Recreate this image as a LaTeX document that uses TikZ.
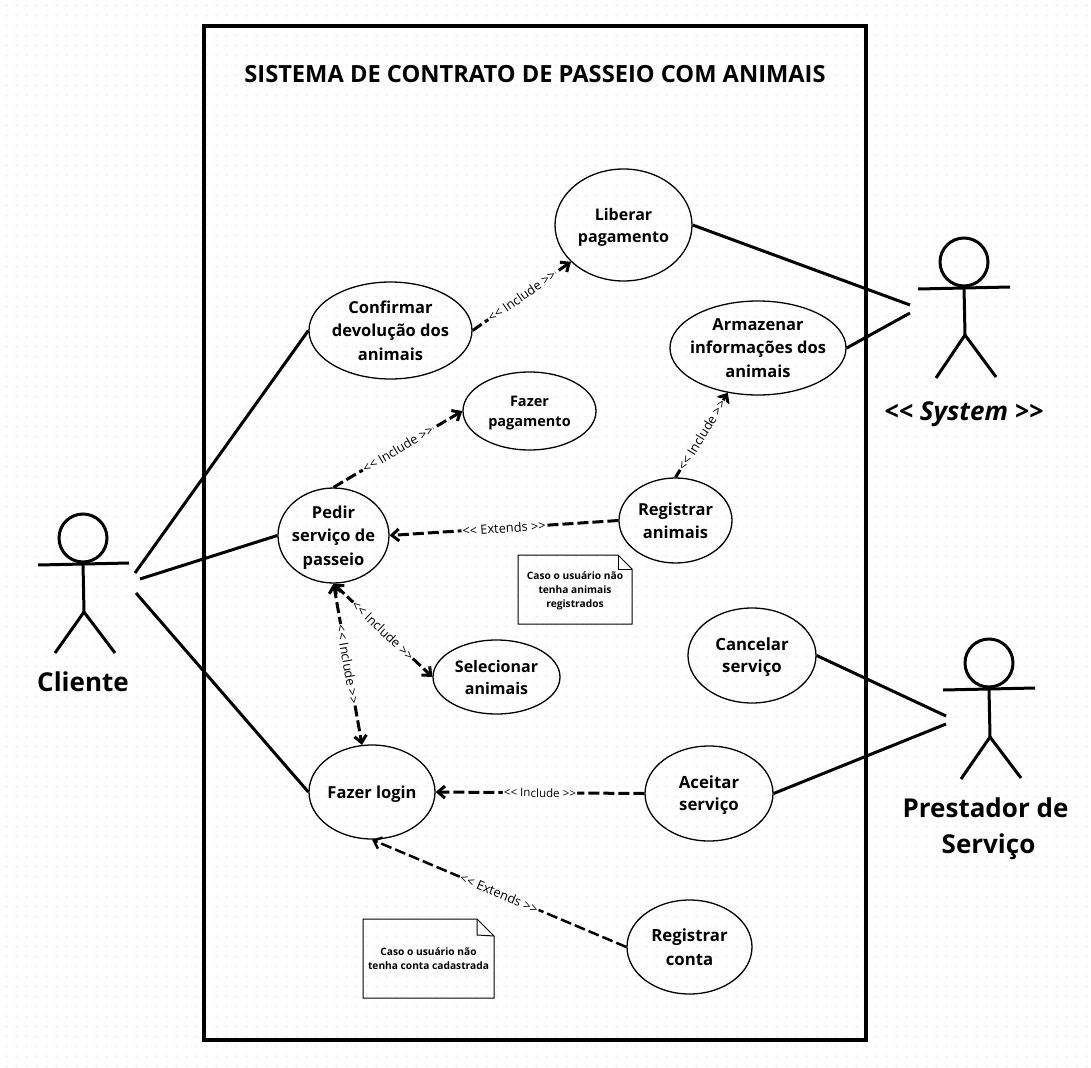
\documentclass[tikz,border=0pt]{standalone}
\usepackage{fontspec}
\setmainfont{Open Sans}
\usetikzlibrary{arrows.meta, shapes.geometric}

\begin{document}
\begin{tikzpicture}[
    x=1pt, y=-1pt,
    usecase/.style={draw, ellipse, inner sep=-15pt, text depth=-1.5pt, align=center, line width=1.3pt, font=\bfseries\fontsize{16.5}{23.5}\selectfont},
    usetight/.style={usecase, font=\bfseries\fontsize{16}{22}\selectfont},
    usewide/.style={usecase, font=\bfseries\fontsize{16.8}{22}\selectfont},
    usesmall/.style={usecase, font=\bfseries\fontsize{14.5}{20}\selectfont},
    actorhead/.style={draw, circle, minimum size=48pt, inner sep=0pt, line width=3pt},
    actorlabel/.style={align=center, font=\bfseries\fontsize{26}{36}\selectfont},
    limb/.style={line width=3pt},
    assoc/.style={line width=3pt},
    incLine/.style={draw, dashed, dash pattern=on 11pt off 4pt, -{Straight Barb[length=7pt,width=12pt]}, line width=3pt},
    biLine/.style={incLine, {Straight Barb[length=7pt,width=12pt]}-{Straight Barb[length=7pt,width=12pt]}},
    tag/.style={fill=white, inner sep=1pt, sloped, font=\fontsize{12.8}{15}\selectfont},
    notetext/.style={align=center, font=\bfseries\fontsize{10.2}{14}\selectfont}
]

    % Page and dots
    \useasboundingbox (0,0) rectangle (1091,1067);
    \fill[white] (0,0) rectangle (1091,1067);
    \foreach \row in {6,16,...,1066} {
        \draw[black!6, line width=1pt, dash pattern=on 3pt off 7pt] (4.5,\row) -- (1091,\row);
    }
    \foreach \col in {6,16,...,1086} {
        \draw[black!6, line width=1pt, dash pattern=on 3pt off 7pt] (\col,4.5) -- (\col,1067);
    }

    % System frame
    \node[draw, line width=4pt, minimum width=662pt, minimum height=1014pt, inner sep=0pt] (frame) at (535,533) {};
    \node[font=\bfseries\fontsize{23.66}{28}\selectfont] (title) at (535,74) {SISTEMA DE CONTRATO DE PASSEIO COM ANIMAIS};

    % Use cases
    \node[usetight, minimum width=137pt, minimum height=112pt] (liberar) at (623.5,225) {Liberar\\pagamento};
    \node[usecase, minimum width=163pt, minimum height=97pt] (confirmar) at (390.5,330.5) {Confirmar\\devolução dos\\animais};
    \node[usecase, minimum width=176pt, minimum height=94pt] (armazenar) at (758,348) {Armazenar\\informações dos\\animais};
    \node[usesmall, minimum width=133pt, minimum height=78pt] (pagamento) at (529.5,411) {Fazer\\pagamento};
    \node[usecase, minimum width=111pt, minimum height=95pt] (pedir) at (333.5,535.5) {Pedir\\serviço de\\passeio};
    \node[usecase, minimum width=113pt, minimum height=85pt] (animais) at (675.5,520.5) {Registrar\\animais};
    \node[usetight, minimum width=127pt, minimum height=74pt] (selecionar) at (496.5,677) {Selecionar\\animais};
    \node[usewide, minimum width=128pt, minimum height=95pt] (cancelar) at (752,655.5) {Cancelar\\serviço};
    \node[usecase, minimum width=126pt, minimum height=94pt] (login) at (372,792) {Fazer login};
    \node[usewide, minimum width=128pt, minimum height=95pt] (aceitar) at (709,793.5) {Aceitar\\serviço};
    \node[usecase, minimum width=125pt, minimum height=94pt, font=\bfseries\fontsize{16.8}{24}\selectfont] (conta) at (689.5,947) {Registrar\\conta};

    % Notes
    \draw[line width=1pt] (518,555) -- (618,555) -- (632,569) -- (632,624) -- (518,624) -- cycle;
    \draw[line width=1pt] (618,555) -- (618,569) -- (632,569);
    \node[notetext] (noteAnimais) at (575,591) {Caso o usuário não\\tenha animais\\registrados};
    \draw[line width=1pt] (363,919) -- (477,919) -- (494,936) -- (494,998) -- (363,998) -- cycle;
    \draw[line width=1pt] (477,919) -- (477,935) -- (494,936);
    \node[notetext] (noteConta) at (428.5,959) {Caso o usuário não\\tenha conta cadastrada};

    % Actors
    \node[actorhead] (cliente) at (83,538) {};
    \coordinate (clienteHip) at (84,612);
    \coordinate (clienteA) at (135,573);
    \coordinate (clienteB) at (140,579);
    \coordinate (clienteC) at (136,593);
    \draw[limb] (38,565) -- (129,563);
    \draw[limb] (cliente.south) -- (clienteHip);
    \draw[limb] (55,653) -- (clienteHip) -- (115,653);
    \node[actorlabel] (clienteLabel) at (83,682) {Cliente};

    \node[actorhead] (sistema) at (964,262) {};
    \coordinate (sistemaHip) at (965,335);
    \coordinate (sistemaA) at (910,305);
    \coordinate (sistemaB) at (910,313);
    \draw[limb] (918,289) -- (1010,287);
    \draw[limb] (sistema.south) -- (sistemaHip);
    \draw[limb] (936,378) -- (sistemaHip) -- (996,377);
    \node[actorlabel, font=\bfseries\itshape\fontsize{26}{30}\selectfont] (sistemaLabel) at (964,414) {<{}< System >{}>};

    \node[actorhead] (prestador) at (989,663) {};
    \coordinate (prestadorHip) at (990,737);
    \coordinate (prestadorA) at (946,716);
    \coordinate (prestadorB) at (946,724);
    \draw[limb] (943,690) -- (1035,688);
    \draw[limb] (prestador.south) -- (prestadorHip);
    \draw[limb] (961,779) -- (prestadorHip) -- (1021,778);
    \node[actorlabel] (prestadorLabel) at (985.5,829) {Prestador de\\\hspace*{6pt}Serviço};

    % Associations
    \draw[assoc] (clienteA) -- (confirmar.west);
    \draw[assoc] (clienteB) -- (pedir.west);
    \draw[assoc] (clienteC) -- (login.west);
    \draw[assoc] (liberar.east) -- (sistemaA);
    \draw[assoc] (armazenar.east) -- (sistemaB);
    \draw[assoc] (cancelar.east) -- (prestadorA);
    \draw[assoc] (aceitar.east) -- (prestadorB);

    % Include and extends
    \draw[incLine] (confirmar.east) -- (liberar.215) node[tag, midway] {<{}< Include >{}>};
    \draw[incLine] (pedir.north) -- (pagamento.west) node[tag, midway] {<{}< Include >{}>};
    \draw[incLine] (animais.north) -- (armazenar.236) node[tag, midway] {<{}< Include >{}>};
    \draw[incLine] (animais.west) -- (pedir.east) node[tag, midway] {<{}< Extends >{}>};
    \draw[biLine] (pedir.south) -- (selecionar.west) node[tag, midway] {<{}< Include >{}>};
    \draw[biLine] (pedir.south) -- (login.102) node[tag, midway] {<{}< Include >{}>};
    \draw[incLine] (aceitar.west) -- (login.east) node[tag, midway, font=\fontsize{11.6}{14}\selectfont] {<{}< Include >{}>};
    \draw[incLine, line width=2.5pt] (conta.west) -- (login.south) node[tag, midway] {<{}< Extends >{}>};

\end{tikzpicture}
\end{document}
